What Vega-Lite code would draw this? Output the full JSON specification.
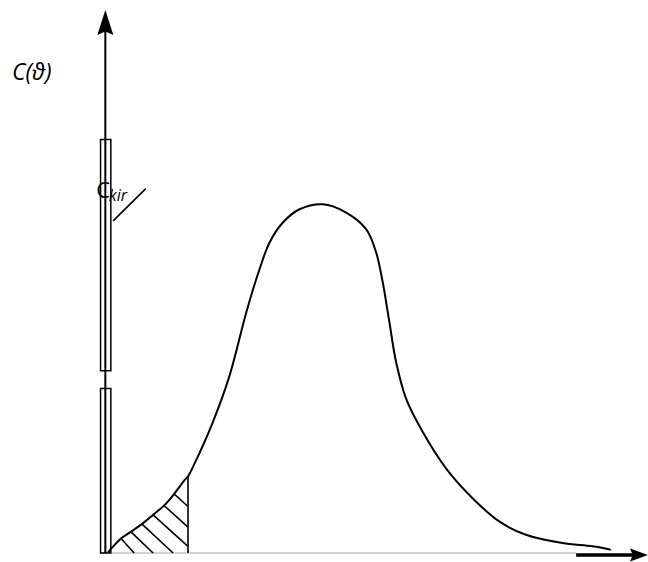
{
  "$schema": "https://vega.github.io/schema/vega-lite/v6.json",
  "width": 648,
  "height": 562,
  "padding": 0,
  "autosize": {"type": "fit", "contains": "padding"},
  "background": "white",
  "config": {"view": {"stroke": null}},
  "datasets": {
    "curve": [
      {"x": 3.3, "y": 0.7}, {"x": 16.7, "y": 15}, {"x": 26.7, "y": 21.7}, {"x": 38.3, "y": 30},
      {"x": 48.3, "y": 38.3}, {"x": 60, "y": 48.3}, {"x": 70, "y": 60}, {"x": 80, "y": 73.3},
      {"x": 83.3, "y": 77}, {"x": 89, "y": 88}, {"x": 108.3, "y": 131.7}, {"x": 125, "y": 178.3},
      {"x": 141.7, "y": 241.7}, {"x": 155, "y": 285}, {"x": 165, "y": 311.7}, {"x": 178.3, "y": 331.7},
      {"x": 195, "y": 345}, {"x": 218.3, "y": 350}, {"x": 241.7, "y": 341.7}, {"x": 261.7, "y": 325},
      {"x": 271.7, "y": 301.7}, {"x": 278.3, "y": 271.7}, {"x": 285, "y": 231.7}, {"x": 291.7, "y": 191.7},
      {"x": 301.7, "y": 155}, {"x": 318.3, "y": 121.7}, {"x": 341.7, "y": 85}, {"x": 368.3, "y": 55},
      {"x": 395, "y": 31.7}, {"x": 421.7, "y": 18.3}, {"x": 458.3, "y": 10}, {"x": 488.3, "y": 6.7},
      {"x": 506.7, "y": 3.3}
    ],
    "hatch": [
      {"x": 16.7, "y": 14, "x2": 29.3, "y2": 0},
      {"x": 26.7, "y": 20.7, "x2": 48.3, "y2": 0},
      {"x": 37.3, "y": 29, "x2": 68.3, "y2": 0},
      {"x": 48.3, "y": 38.3, "x2": 83.3, "y2": 6.7},
      {"x": 59.3, "y": 47.7, "x2": 83.3, "y2": 26},
      {"x": 69.3, "y": 59.3, "x2": 83.3, "y2": 46.7},
      {"x": 83.3, "y": 0, "x2": 83.3, "y2": 77}
    ],
    "segments": [
      {"part": "baseline", "x": -5, "y": 0, "x2": 472, "y2": 0},
      {"part": "axis", "x": 0.5, "y": 0, "x2": 0.5, "y2": 528},
      {"part": "pointer", "x": 8.3, "y": 333.3, "x2": 41, "y2": 365.7},
      {"part": "xarrow", "x": 472, "y": -2, "x2": 532, "y2": -2}
    ],
    "bars": [
      {"x": -4.3, "x2": 6, "y": 183, "y2": 415},
      {"x": -4.3, "x2": 6, "y": 0, "y2": 165}
    ],
    "heads": [
      {"dir": "up", "x": 0.5, "y": 532.5},
      {"dir": "right", "x": 535, "y": -2}
    ],
    "labels": [
      {"part": "ylabel", "text": "C(ϑ)", "x": -93, "y": 475},
      {"part": "cbig", "text": "C", "x": -8.5, "y": 356.3},
      {"part": "csub", "text": "kir", "x": 4, "y": 353.7}
    ]
  },
  "layer": [
    {
      "data": {"name": "segments"},
      "transform": [{"filter": "datum.part === 'baseline'"}],
      "mark": {"type": "rule", "color": "#c4c4c4", "strokeWidth": 1.5},
      "encoding": {
        "x": {"field": "x", "type": "quantitative", "scale": {"domain": [-105, 543], "nice": false, "zero": false}, "axis": null},
        "y": {"field": "y", "type": "quantitative", "scale": {"domain": [-7, 555], "nice": false, "zero": false}, "axis": null},
        "x2": {"field": "x2"},
        "y2": {"field": "y2"}
      }
    },
    {
      "data": {"name": "segments"},
      "transform": [{"filter": "datum.part === 'axis'"}],
      "mark": {"type": "rule", "color": "black", "strokeWidth": 2},
      "encoding": {
        "x": {"field": "x", "type": "quantitative", "scale": {"domain": [-105, 543], "nice": false, "zero": false}, "axis": null},
        "y": {"field": "y", "type": "quantitative", "scale": {"domain": [-7, 555], "nice": false, "zero": false}, "axis": null},
        "x2": {"field": "x2"},
        "y2": {"field": "y2"}
      }
    },
    {
      "data": {"name": "bars"},
      "mark": {"type": "rect", "fill": "transparent", "stroke": "black", "strokeWidth": 1.5},
      "encoding": {
        "x": {"field": "x", "type": "quantitative", "scale": {"domain": [-105, 543], "nice": false, "zero": false}, "axis": null},
        "y": {"field": "y", "type": "quantitative", "scale": {"domain": [-7, 555], "nice": false, "zero": false}, "axis": null},
        "x2": {"field": "x2"},
        "y2": {"field": "y2"}
      }
    },
    {
      "data": {"name": "hatch"},
      "mark": {"type": "rule", "color": "black", "strokeWidth": 1.6},
      "encoding": {
        "x": {"field": "x", "type": "quantitative", "scale": {"domain": [-105, 543], "nice": false, "zero": false}, "axis": null},
        "y": {"field": "y", "type": "quantitative", "scale": {"domain": [-7, 555], "nice": false, "zero": false}, "axis": null},
        "x2": {"field": "x2"},
        "y2": {"field": "y2"}
      }
    },
    {
      "data": {"name": "curve"},
      "mark": {"type": "line", "color": "black", "strokeWidth": 2, "interpolate": "catmull-rom"},
      "encoding": {
        "x": {"field": "x", "type": "quantitative", "scale": {"domain": [-105, 543], "nice": false, "zero": false}, "axis": null},
        "y": {"field": "y", "type": "quantitative", "scale": {"domain": [-7, 555], "nice": false, "zero": false}, "axis": null}
      }
    },
    {
      "data": {"name": "segments"},
      "transform": [{"filter": "datum.part === 'pointer'"}],
      "mark": {"type": "rule", "color": "black", "strokeWidth": 1.6},
      "encoding": {
        "x": {"field": "x", "type": "quantitative", "scale": {"domain": [-105, 543], "nice": false, "zero": false}, "axis": null},
        "y": {"field": "y", "type": "quantitative", "scale": {"domain": [-7, 555], "nice": false, "zero": false}, "axis": null},
        "x2": {"field": "x2"},
        "y2": {"field": "y2"}
      }
    },
    {
      "data": {"name": "segments"},
      "transform": [{"filter": "datum.part === 'xarrow'"}],
      "mark": {"type": "rule", "color": "black", "strokeWidth": 3.5},
      "encoding": {
        "x": {"field": "x", "type": "quantitative", "scale": {"domain": [-105, 543], "nice": false, "zero": false}, "axis": null},
        "y": {"field": "y", "type": "quantitative", "scale": {"domain": [-7, 555], "nice": false, "zero": false}, "axis": null},
        "x2": {"field": "x2"},
        "y2": {"field": "y2"}
      }
    },
    {
      "data": {"name": "heads"},
      "transform": [{"filter": "datum.dir === 'up'"}],
      "mark": {"type": "point", "filled": true, "color": "black", "opacity": 1, "size": 625, "shape": "M0,-1 L0.64,1 L0,0.72 L-0.64,1 Z"},
      "encoding": {
        "x": {"field": "x", "type": "quantitative", "scale": {"domain": [-105, 543], "nice": false, "zero": false}, "axis": null},
        "y": {"field": "y", "type": "quantitative", "scale": {"domain": [-7, 555], "nice": false, "zero": false}, "axis": null}
      }
    },
    {
      "data": {"name": "heads"},
      "transform": [{"filter": "datum.dir === 'right'"}],
      "mark": {"type": "point", "filled": true, "color": "black", "opacity": 1, "size": 324, "shape": "M1,0 L-1,-0.72 L-0.7,0 L-1,0.72 Z"},
      "encoding": {
        "x": {"field": "x", "type": "quantitative", "scale": {"domain": [-105, 543], "nice": false, "zero": false}, "axis": null},
        "y": {"field": "y", "type": "quantitative", "scale": {"domain": [-7, 555], "nice": false, "zero": false}, "axis": null}
      }
    },
    {
      "data": {"name": "labels"},
      "transform": [{"filter": "datum.part === 'ylabel'"}],
      "mark": {"type": "text", "font": "Open Sans", "fontSize": 23, "fontStyle": "italic", "align": "left", "baseline": "alphabetic", "color": "black"},
      "encoding": {
        "x": {"field": "x", "type": "quantitative", "scale": {"domain": [-105, 543], "nice": false, "zero": false}, "axis": null},
        "y": {"field": "y", "type": "quantitative", "scale": {"domain": [-7, 555], "nice": false, "zero": false}, "axis": null},
        "text": {"field": "text"}
      }
    },
    {
      "data": {"name": "labels"},
      "transform": [{"filter": "datum.part === 'cbig'"}],
      "mark": {"type": "text", "font": "Open Sans", "fontSize": 22, "align": "left", "baseline": "alphabetic", "color": "black"},
      "encoding": {
        "x": {"field": "x", "type": "quantitative", "scale": {"domain": [-105, 543], "nice": false, "zero": false}, "axis": null},
        "y": {"field": "y", "type": "quantitative", "scale": {"domain": [-7, 555], "nice": false, "zero": false}, "axis": null},
        "text": {"field": "text"}
      }
    },
    {
      "data": {"name": "labels"},
      "transform": [{"filter": "datum.part === 'csub'"}],
      "mark": {"type": "text", "font": "Open Sans", "fontSize": 16, "fontStyle": "italic", "align": "left", "baseline": "alphabetic", "color": "black"},
      "encoding": {
        "x": {"field": "x", "type": "quantitative", "scale": {"domain": [-105, 543], "nice": false, "zero": false}, "axis": null},
        "y": {"field": "y", "type": "quantitative", "scale": {"domain": [-7, 555], "nice": false, "zero": false}, "axis": null},
        "text": {"field": "text"}
      }
    }
  ]
}
